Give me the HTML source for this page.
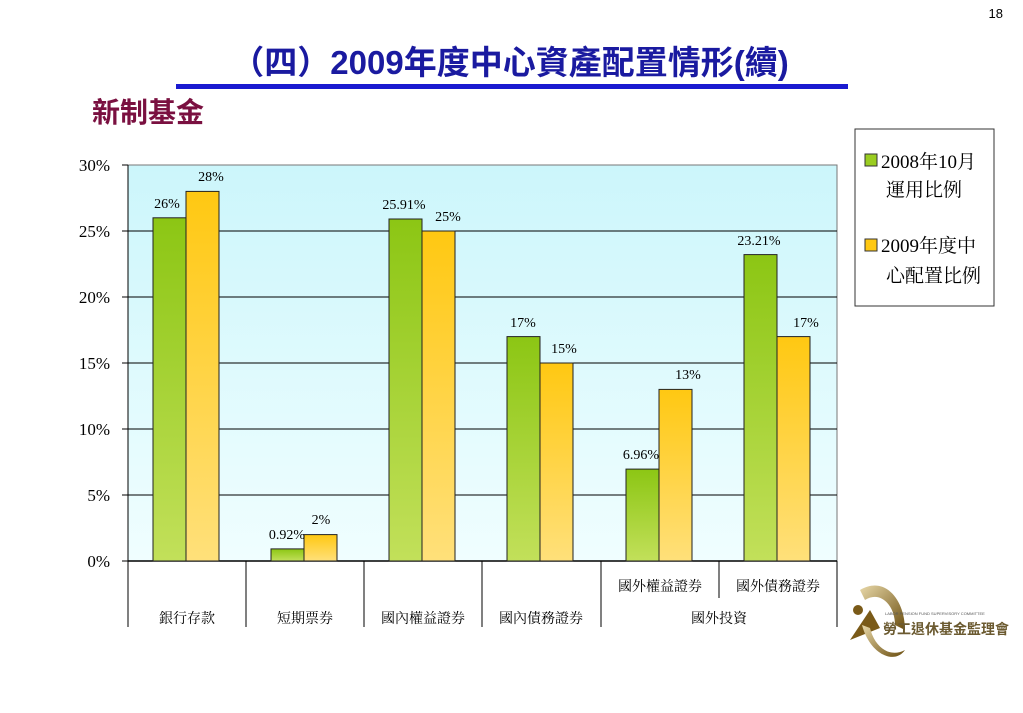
<!DOCTYPE html>
<html><head><meta charset="utf-8"><style>
body{margin:0;width:1023px;height:708px;background:#fff;overflow:hidden}
text{font-family:"Liberation Serif","Noto Serif CJK SC",serif}
</style></head><body>
<svg width="1023" height="708" xmlns="http://www.w3.org/2000/svg">
<defs>
<linearGradient id="bg" x1="0" y1="0" x2="0" y2="1"><stop offset="0" stop-color="#ccf6fb"/><stop offset="1" stop-color="#f0feff"/></linearGradient>
<linearGradient id="g" x1="0" y1="0" x2="0" y2="1"><stop offset="0" stop-color="#8cc614"/><stop offset="1" stop-color="#c2e05a"/></linearGradient>
<linearGradient id="y" x1="0" y1="0" x2="0" y2="1"><stop offset="0" stop-color="#ffc812"/><stop offset="1" stop-color="#ffe07a"/></linearGradient>
<linearGradient id="gold" x1="0" y1="0" x2="1" y2="1"><stop offset="0" stop-color="#e8d8a8"/><stop offset="1" stop-color="#6b4e10"/></linearGradient>
</defs>
<text x="1003" y="18" font-size="13" text-anchor="end" style="font-family:'Liberation Sans',sans-serif">18</text>
<text x="510" y="74" font-size="33" fill="#1a1aa0" text-anchor="middle" font-weight="bold" style="font-family:'Liberation Sans','Noto Sans CJK TC',sans-serif">（四）2009年度中心資產配置情形(續)</text>
<rect x="176" y="84" width="672" height="5" fill="#1a1ad0"/>
<text x="92" y="122" font-size="28" fill="#7a1040" font-weight="bold" style="font-family:'Liberation Sans','Noto Sans CJK TC',sans-serif">新制基金</text>
<rect x="128" y="165" width="709" height="396" fill="url(#bg)" stroke="#777"/>
<g stroke="#000" stroke-width="1">
<line x1="128" y1="231" x2="837" y2="231"/><line x1="128" y1="297" x2="837" y2="297"/><line x1="128" y1="363" x2="837" y2="363"/><line x1="128" y1="429" x2="837" y2="429"/><line x1="128" y1="495" x2="837" y2="495"/>
<line x1="128" y1="165" x2="128" y2="561"/>
<line x1="122" y1="165" x2="128" y2="165"/><line x1="122" y1="231" x2="128" y2="231"/><line x1="122" y1="297" x2="128" y2="297"/><line x1="122" y1="363" x2="128" y2="363"/><line x1="122" y1="429" x2="128" y2="429"/><line x1="122" y1="495" x2="128" y2="495"/><line x1="122" y1="561" x2="128" y2="561"/>
<line x1="128" y1="561" x2="837" y2="561" stroke-width="1.5"/>
<line x1="128" y1="561" x2="128" y2="627"/><line x1="246" y1="561" x2="246" y2="627"/><line x1="364" y1="561" x2="364" y2="627"/><line x1="482" y1="561" x2="482" y2="627"/><line x1="601" y1="561" x2="601" y2="627"/><line x1="719" y1="561" x2="719" y2="598"/><line x1="837" y1="561" x2="837" y2="627"/>
</g>
<g font-size="17" text-anchor="end">
<text x="110" y="171">30%</text><text x="110" y="237">25%</text><text x="110" y="303">20%</text><text x="110" y="369">15%</text><text x="110" y="435">10%</text><text x="110" y="501">5%</text><text x="110" y="567">0%</text>
</g>
<g stroke="#222" stroke-width="1">
<rect x="153" y="217.8" width="33" height="343.2" fill="url(#g)"/><rect x="186" y="191.4" width="33" height="369.6" fill="url(#y)"/>
<rect x="271" y="548.9" width="33" height="12.1" fill="url(#g)"/><rect x="304" y="534.6" width="33" height="26.4" fill="url(#y)"/>
<rect x="389" y="219" width="33" height="342" fill="url(#g)"/><rect x="422" y="231" width="33" height="330" fill="url(#y)"/>
<rect x="507" y="336.6" width="33" height="224.4" fill="url(#g)"/><rect x="540" y="363" width="33" height="198" fill="url(#y)"/>
<rect x="626" y="469.1" width="33" height="91.9" fill="url(#g)"/><rect x="659" y="389.4" width="33" height="171.6" fill="url(#y)"/>
<rect x="744" y="254.6" width="33" height="306.4" fill="url(#g)"/><rect x="777" y="336.6" width="33" height="224.4" fill="url(#y)"/>
</g>
<g font-size="14" text-anchor="middle">
<text x="167" y="208">26%</text><text x="211" y="181">28%</text>
<text x="287" y="539">0.92%</text><text x="321" y="524">2%</text>
<text x="404" y="209">25.91%</text><text x="448" y="221">25%</text>
<text x="523" y="327">17%</text><text x="564" y="353">15%</text>
<text x="641" y="459">6.96%</text><text x="688" y="379">13%</text>
<text x="759" y="245">23.21%</text><text x="806" y="327">17%</text>
</g>
<g font-size="14" text-anchor="middle" style="font-family:'Liberation Sans','Noto Sans CJK TC',sans-serif">
<text x="187" y="623">銀行存款</text><text x="305" y="623">短期票券</text><text x="423" y="623">國內權益證券</text><text x="541" y="623">國內債務證券</text>
<text x="660" y="591">國外權益證券</text><text x="778" y="591">國外債務證券</text><text x="719" y="623">國外投資</text>
</g>
<rect x="855" y="129" width="139" height="177" fill="#fff" stroke="#333"/>
<rect x="865" y="154" width="12" height="12" fill="#9acd20" stroke="#333"/>
<rect x="865" y="239" width="12" height="12" fill="#ffc812" stroke="#333"/>
<g font-size="19">
<text x="881" y="168">2008年10月</text><text x="886" y="196">運用比例</text>
<text x="881" y="252">2009年度中</text><text x="886" y="282">心配置比例</text>
</g>
<path d="M860 590 C 885 575, 905 600, 905 630 L 895 625 C 895 605, 880 590, 865 600 Z" fill="url(#gold)"/>
<path d="M850 640 L 870 610 L 880 628 Z" fill="#7a5a18"/>
<circle cx="858" cy="610" r="5" fill="#7a5a18"/>
<path d="M862 625 C 870 655, 895 665, 905 650 C 890 658, 875 648, 870 628 Z" fill="url(#gold)"/>
<text x="885" y="615" font-size="4" fill="#555" style="font-family:'Liberation Sans',sans-serif">LABOR PENSION FUND SUPERVISORY COMMITTEE</text>
<text x="883" y="634" font-size="14" font-weight="bold" fill="#6b5a30" style="font-family:'Liberation Sans','Noto Sans CJK TC',sans-serif">勞工退休基金監理會</text>
</svg>
</body></html>
